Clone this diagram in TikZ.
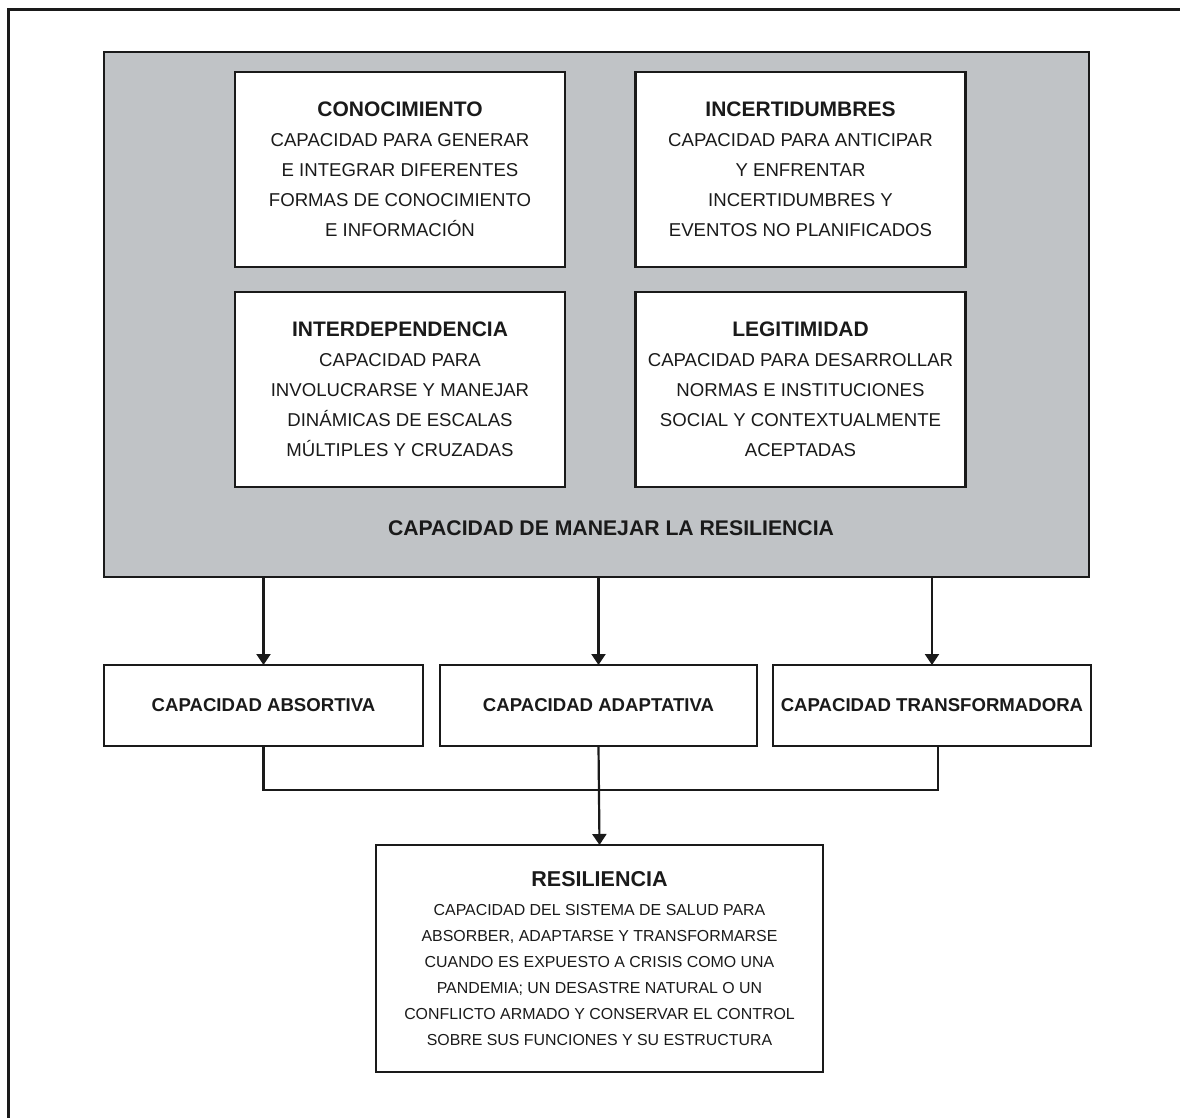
\documentclass[tikz,border=0pt]{standalone}
\usepackage{fontspec}
\setmainfont{Liberation Sans}
\usepackage{xcolor}
\usetikzlibrary{arrows.meta}
\definecolor{fondogris}{RGB}{192,195,198}
\definecolor{tinta}{RGB}{26,26,26}
\newcommand{\tituloCaja}[1]{{\fontsize{21}{30}\selectfont\bfseries #1}}

\begin{document}
\begin{tikzpicture}[x=1pt,y=-1pt,
  caja/.style={draw=tinta,line width=2.5pt,fill=white,align=center,text=tinta,inner sep=0pt,outer sep=0pt},
  capbox/.style={caja,minimum width=330pt,minimum height=195pt,font=\fontsize{18.6}{30}\selectfont},
  midbox/.style={caja,minimum height=81pt,font=\fontsize{18.6}{22}\selectfont\bfseries},
  flecha/.style={draw=tinta,line width=2.2pt,-{Triangle[length=11pt,width=14pt]}},
  linea/.style={draw=tinta,line width=2.2pt}]
\useasboundingbox (0,0) rectangle (1180,1118);
% marco exterior
\draw[tinta,line width=3pt] (8,1118) -- (8,10) -- (1180,10);

% bloque gris
\node[caja,fill=fondogris,minimum width=985pt,minimum height=525pt] (manejo) at (596.5,314.5) {};

\node[capbox] (conocimiento) at (400,169.5) {\tituloCaja{CONOCIMIENTO}\\CAPACIDAD PARA GENERAR\\E INTEGRAR DIFERENTES\\FORMAS DE CONOCIMIENTO\\E INFORMACIÓN};
\node[capbox] (incertidumbres) at (800.5,169.5) {\tituloCaja{INCERTIDUMBRES}\\CAPACIDAD PARA ANTICIPAR\\Y ENFRENTAR\\INCERTIDUMBRES Y\\EVENTOS NO PLANIFICADOS};
\node[capbox] (interdependencia) at (400,389.5) {\tituloCaja{INTERDEPENDENCIA}\\CAPACIDAD PARA\\INVOLUCRARSE Y MANEJAR\\DINÁMICAS DE ESCALAS\\MÚLTIPLES Y CRUZADAS};
\node[capbox] (legitimidad) at (800.5,389.5) {\tituloCaja{LEGITIMIDAD}\\CAPACIDAD PARA DESARROLLAR\\NORMAS E INSTITUCIONES\\SOCIAL Y CONTEXTUALMENTE\\ACEPTADAS};

\node[text=tinta,font=\fontsize{21.2}{24}\selectfont\bfseries] (manejotxt) at (611,528) {CAPACIDAD DE MANEJAR LA RESILIENCIA};

% capacidades
\node[midbox,minimum width=319pt] (absortiva) at (263.5,705.5) {CAPACIDAD ABSORTIVA};
\node[midbox,minimum width=317pt] (adaptativa) at (598.5,705.5) {CAPACIDAD ADAPTATIVA};
\node[midbox,minimum width=318pt] (transformadora) at (932,705.5) {CAPACIDAD TRANSFORMADORA};

\draw[flecha] (manejo.south -| absortiva) -- (absortiva);
\draw[flecha] (manejo.south -| adaptativa) -- (adaptativa);
\draw[flecha] (manejo.south -| transformadora) -- (transformadora);

% resiliencia
\node[caja,minimum width=447pt,minimum height=227pt,font=\fontsize{15.9}{26}\selectfont] (resiliencia) at (599.5,958.5)
  {{\fontsize{21.5}{24}\selectfont\bfseries RESILIENCIA}\\[3pt]CAPACIDAD DEL SISTEMA DE SALUD PARA\\ABSORBER, ADAPTARSE Y TRANSFORMARSE\\CUANDO ES EXPUESTO A CRISIS COMO UNA\\PANDEMIA; UN DESASTRE NATURAL O UN\\CONFLICTO ARMADO Y CONSERVAR EL CONTROL\\SOBRE SUS FUNCIONES Y SU ESTRUCTURA};

\coordinate (junta) at (599,790);
\draw[linea] (absortiva.south) |- (junta) -| ([xshift=6pt]transformadora.south);
\draw[flecha] (adaptativa.south) -- (resiliencia.north);
\end{tikzpicture}
\end{document}
